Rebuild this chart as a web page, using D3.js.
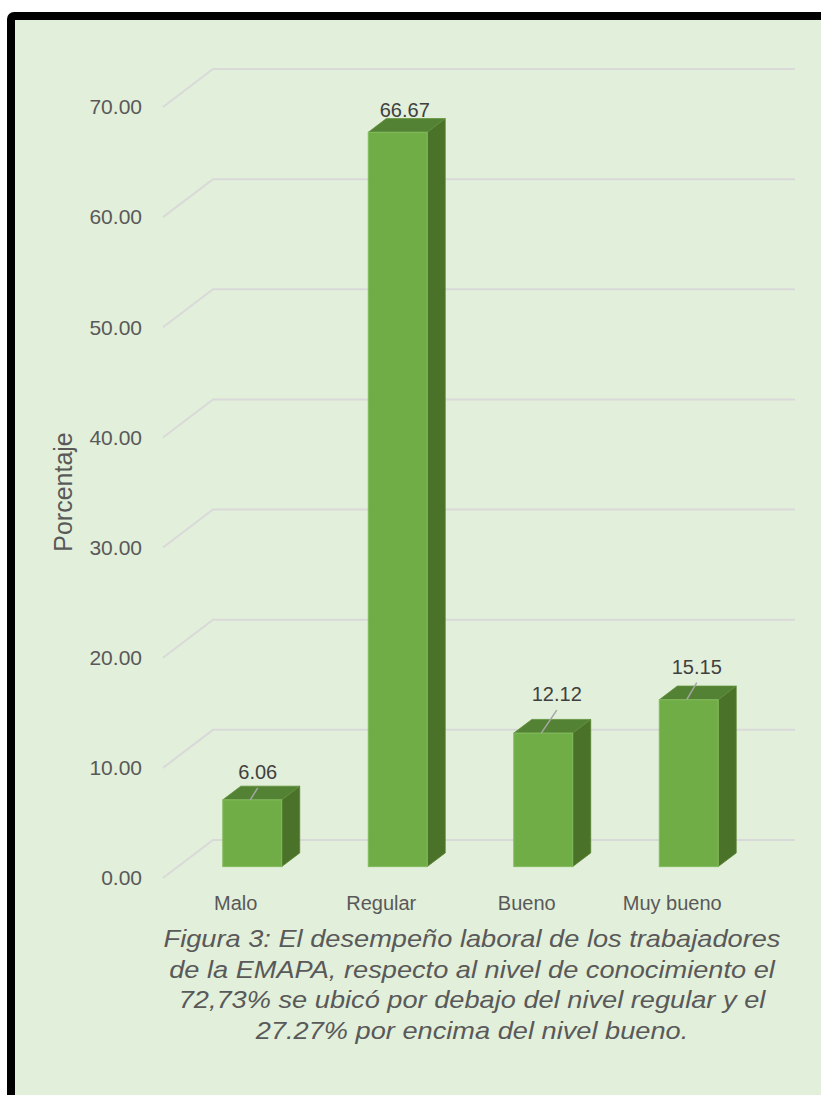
<!DOCTYPE html>
<html>
<head>
<meta charset="utf-8">
<script src="https://cdn.jsdelivr.net/npm/d3@7/dist/d3.min.js"></script>
<style>
  html, body { margin: 0; padding: 0; background: #ffffff; }
  svg { display: block; }
  text { font-family: "Liberation Sans", Arial, sans-serif; }
</style>
</head>
<body>
<svg id="chart" width="821" height="1095"></svg>
<script>
// ---- data ----
const categories = ["Malo", "Regular", "Bueno", "Muy bueno"];
const values = [6.06, 66.67, 12.12, 15.15];
const tickValues = [0, 10, 20, 30, 40, 50, 60, 70];
const axisTitle = "Porcentaje";
const captionLines = [
  "Figura 3: El desempeño laboral de los trabajadores",
  "de la EMAPA, respecto al nivel de conocimiento el",
  "72,73% se ubicó por debajo del nivel regular y el",
  "27.27% por encima del nivel bueno."
];
// manual label nudges (dx, dy from bar top-front centre)
const labelNudge = [[5.5, -21], [7, -15], [13.5, -32], [8, -26]];

// ---- layout ----
const svg = d3.select("#chart");
const depthX = 50, depthY = -38;      // 3D depth of the plot floor
const f1 = 0.30, f2 = 0.66;           // bar front / back depth fractions

const x = d3.scaleBand().domain(categories).range([163, 745]).paddingInner(0).paddingOuter(0);
const y = d3.scaleLinear().domain([0, 70]).range([878, 107]);
const barW = x.bandwidth() * 0.405;

// frame
svg.append("rect").attr("x", 11).attr("y", 16).attr("width", 840).attr("height", 1110)
  .attr("rx", 3).attr("fill", "#E2EFDA").attr("stroke", "#000").attr("stroke-width", 8);

// gridlines (3D: front-left diagonal, then back wall)
const grid = svg.append("g");
tickValues.forEach(t => {
  const yf = y(t);
  grid.append("path")
    .attr("d", `M${x.range()[0]},${yf} L${x.range()[0] + depthX},${yf + depthY} L795,${yf + depthY}`)
    .attr("fill", "none").attr("stroke", "#D9D9D9").attr("stroke-width", 2);
});

// y axis tick labels
const yAxis = d3.axisLeft(y).tickValues(tickValues).tickFormat(d3.format(".2f")).tickSize(0).tickPadding(0);
const ya = svg.append("g").attr("transform", "translate(142,0)").call(yAxis);
ya.select(".domain").remove();
ya.selectAll("text").attr("font-size", 21).attr("fill", "#595959")
  .attr("font-family", "Liberation Sans, Arial, sans-serif");

// axis title
svg.append("text").attr("transform", "translate(72,492) rotate(-90)")
  .attr("text-anchor", "middle").attr("font-size", 25).attr("fill", "#595959").text(axisTitle);

// bars
const bars = svg.append("g");
categories.forEach((c, i) => {
  const v = values[i];
  const cx = x(c) + x.bandwidth() / 2 + f1 * depthX + 1.5;
  const x0 = cx - barW / 2, x1 = cx + barW / 2;
  const yb = y(0) + f1 * depthY, yt = y(v) + f1 * depthY;
  const ddx = (f2 - f1) * depthX, ddy = (f2 - f1) * depthY;
  // side face
  bars.append("path").attr("d", `M${x1},${yb} L${x1 + ddx},${yb + ddy} L${x1 + ddx},${yt + ddy} L${x1},${yt} Z`)
    .attr("fill", "#4A7229").attr("stroke", "#55802f").attr("stroke-width", 0.8);
  // top face
  bars.append("path").attr("d", `M${x0},${yt} L${x0 + ddx},${yt + ddy} L${x1 + ddx},${yt + ddy} L${x1},${yt} Z`)
    .attr("fill", "#548235").attr("stroke", "#5f9139").attr("stroke-width", 0.8);
  // front face
  bars.append("rect").attr("x", x0).attr("y", yt).attr("width", barW).attr("height", yb - yt)
    .attr("fill", "#70AD47").attr("stroke", "#82bb5c").attr("stroke-width", 1);

  // data label + leader line
  const [nx, ny] = labelNudge[i];
  const base = yt + ny;
  if (yt - (base + 9) > 8) {
    bars.append("line").attr("x1", cx - 2).attr("y1", yt).attr("x2", cx + nx).attr("y2", base + 9)
      .attr("stroke", "#A6A6A6").attr("stroke-width", 1.5);
  }
  bars.append("text").attr("x", cx + nx).attr("y", base).attr("text-anchor", "middle")
    .attr("font-size", 20).attr("fill", "#404040").text(d3.format(".2f")(v));
});

// category labels
const xAxis = d3.axisBottom(x).tickSize(0).tickPadding(0);
const xa = svg.append("g").attr("transform", "translate(0,896)").call(xAxis);
xa.select(".domain").remove();
xa.selectAll("text").attr("font-size", 20).attr("fill", "#595959").attr("dy", "0.71em")
  .attr("font-family", "Liberation Sans, Arial, sans-serif");

// caption
const cap = svg.append("g");
captionLines.forEach((line, i) => {
  cap.append("text").attr("transform", `translate(472,${947 + i * 30.5}) scale(1.12,1)`)
    .attr("text-anchor", "middle")
    .attr("font-size", 24.3).attr("font-style", "italic").attr("fill", "#595959").text(line);
});
</script>
</body>
</html>
